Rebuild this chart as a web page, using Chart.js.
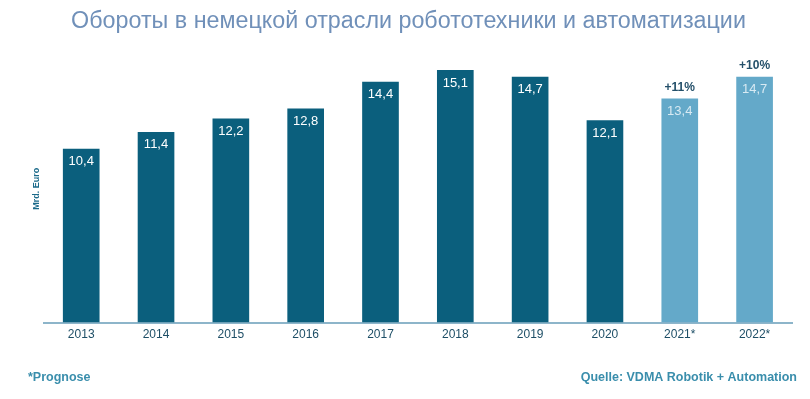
<!DOCTYPE html>
<html lang="ru">
<head>
<meta charset="UTF-8">
<title>Обороты в немецкой отрасли робототехники и автоматизации</title>
<script src="https://cdn.jsdelivr.net/npm/chart.js@4.4.1/dist/chart.umd.min.js"></script>
<style>
    html, body { margin: 0; padding: 0; background: #ffffff; }
    .wrap { position: relative; width: 810px; height: 399px; }
</style>
</head>
<body>
<div class="wrap">
    <canvas id="chart" width="810" height="399"></canvas>
</div>
<script>
    // data
    const years = ['2013', '2014', '2015', '2016', '2017', '2018', '2019', '2020', '2021*', '2022*'];
    const revenue = [10.4, 11.4, 12.2, 12.8, 14.4, 15.1, 14.7, 12.1, 13.4, 14.7];
    const isForecast = [false, false, false, false, false, false, false, false, true, true];
    const growthLabels = ['', '', '', '', '', '', '', '', '+11%', '+10%'];

    const FONT = '"Liberation Sans", Arial, sans-serif';
    const DARK = '#0b5f7d';
    const LIGHT = '#64a9c9';

    const labelsPlugin = {
        id: 'barLabels',
        afterDatasetsDraw(chart) {
            const ctx = chart.ctx;
            const meta = chart.getDatasetMeta(0);
            ctx.save();
            ctx.textAlign = 'center';
            ctx.textBaseline = 'middle';
            meta.data.forEach((bar, i) => {
                ctx.font = '13px ' + FONT;
                ctx.fillStyle = isForecast[i] ? '#d8eaf3' : '#ffffff';
                ctx.fillText(revenue[i].toFixed(1).replace('.', ','), bar.x, bar.y + 13);
                if (growthLabels[i]) {
                    ctx.font = 'bold 12px ' + FONT;
                    ctx.fillStyle = '#24506a';
                    ctx.fillText(growthLabels[i], bar.x, bar.y - 11);
                }
            });
            ctx.restore();
        },
        afterDraw(chart) {
            // footnote and source line
            const ctx = chart.ctx;
            ctx.save();
            ctx.font = 'bold 12.5px ' + FONT;
            ctx.fillStyle = '#3a8eac';
            ctx.textBaseline = 'middle';
            ctx.textAlign = 'left';
            ctx.fillText('*Prognose', 28, 378);
            ctx.textAlign = 'right';
            ctx.fillText('Quelle: VDMA Robotik + Automation', 797, 378);
            ctx.restore();
        }
    };

    new Chart(document.getElementById('chart'), {
        type: 'bar',
        data: {
            labels: years,
            datasets: [{
                data: revenue,
                backgroundColor: isForecast.map(f => f ? LIGHT : DARK),
                barPercentage: 0.49,
                categoryPercentage: 1.0
            }]
        },
        options: {
            responsive: false,
            animation: false,
            layout: {
                padding: { top: 0, right: 18, bottom: 52, left: 25 }
            },
            plugins: {
                legend: { display: false },
                tooltip: { enabled: false },
                title: {
                    display: true,
                    text: 'Обороты в немецкой отрасли робототехники и автоматизации',
                    color: '#7090b9',
                    font: { family: FONT, size: 23.3, weight: 'normal' },
                    padding: { top: 8, bottom: 19 }
                }
            },
            scales: {
                x: {
                    grid: { display: false, drawTicks: false },
                    border: { display: true, color: '#8db5ca', width: 2 },
                    ticks: {
                        color: '#1d4e66',
                        padding: 5,
                        font: { family: FONT, size: 12 }
                    }
                },
                y: {
                    min: 0,
                    max: 16,
                    grid: { display: false, drawTicks: false },
                    border: { display: false },
                    ticks: { display: false },
                    title: {
                        display: true,
                        text: 'Mrd. Euro',
                        color: '#1b6a8a',
                        font: { family: FONT, size: 9, weight: 'bold' },
                        padding: { top: 6, bottom: 2 }
                    }
                }
            }
        },
        plugins: [labelsPlugin]
    });
</script>
</body>
</html>
